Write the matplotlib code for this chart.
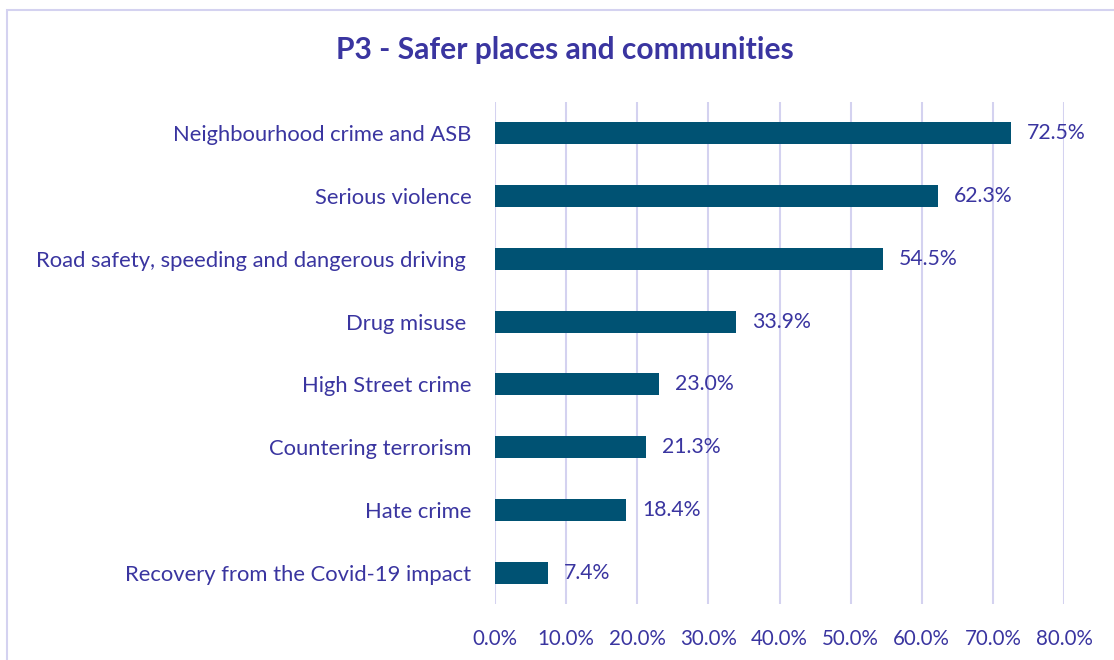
import matplotlib
matplotlib.use("Agg")
import matplotlib.pyplot as plt
from matplotlib.patches import Rectangle
from matplotlib.ticker import FuncFormatter, MultipleLocator

categories = [
    "Neighbourhood crime and ASB",
    "Serious violence",
    "Road safety, speeding and dangerous driving ",
    "Drug misuse ",
    "High Street crime",
    "Countering terrorism",
    "Hate crime",
    "Recovery from the Covid-19 impact",
]
values = [72.5, 62.3, 54.5, 33.9, 23.0, 21.3, 18.4, 7.4]
title = "P3 - Safer places and communities"

text_color = "#3A35A0"
bar_color = "#005273"
grid_color = "#D4D2F0"
plt.rcParams['font.family'] = ['Lato', 'DejaVu Sans']

fig = plt.figure(figsize=(11.14, 6.6), dpi=100)
fig.patches.append(Rectangle((7/1114, -0.1), 1.2, 1 - 10/660 + 0.1, transform=fig.transFigure,
                             fill=False, edgecolor=grid_color, linewidth=1.5))
ax = fig.add_axes([495/1114, 1 - 604/660, (1064 - 495)/1114, (604 - 102)/660])

y = list(range(len(categories)))
ax.barh(y, values, height=0.35, color=bar_color, zorder=3)
ax.set_ylim(len(categories) - 0.5, -0.5)
ax.set_xlim(0, 80)
ax.xaxis.set_major_locator(MultipleLocator(10))
ax.xaxis.set_major_formatter(FuncFormatter(lambda v, p: f"{v:.1f}%"))
ax.set_yticks(y)
ax.set_yticklabels(categories)
ax.grid(axis='x', color=grid_color, linewidth=1.5, zorder=0)
for s in ax.spines.values():
    s.set_visible(False)
ax.tick_params(axis='both', length=0, colors=text_color)
ax.tick_params(axis='y', pad=17, labelsize=15.8)
ax.tick_params(axis='x', pad=18, labelsize=14.8)
for yi, v in zip(y, values):
    ax.text(v + 2.25, yi, f"{v:.1f}%", va='center', ha='left', color=text_color, fontsize=15.3, zorder=4)

fig.text(565/1114, 1 - 50/660, title, ha='center', va='center', color=text_color,
         fontsize=21.6, fontweight='bold')

fig.savefig("out.png", dpi=100)
